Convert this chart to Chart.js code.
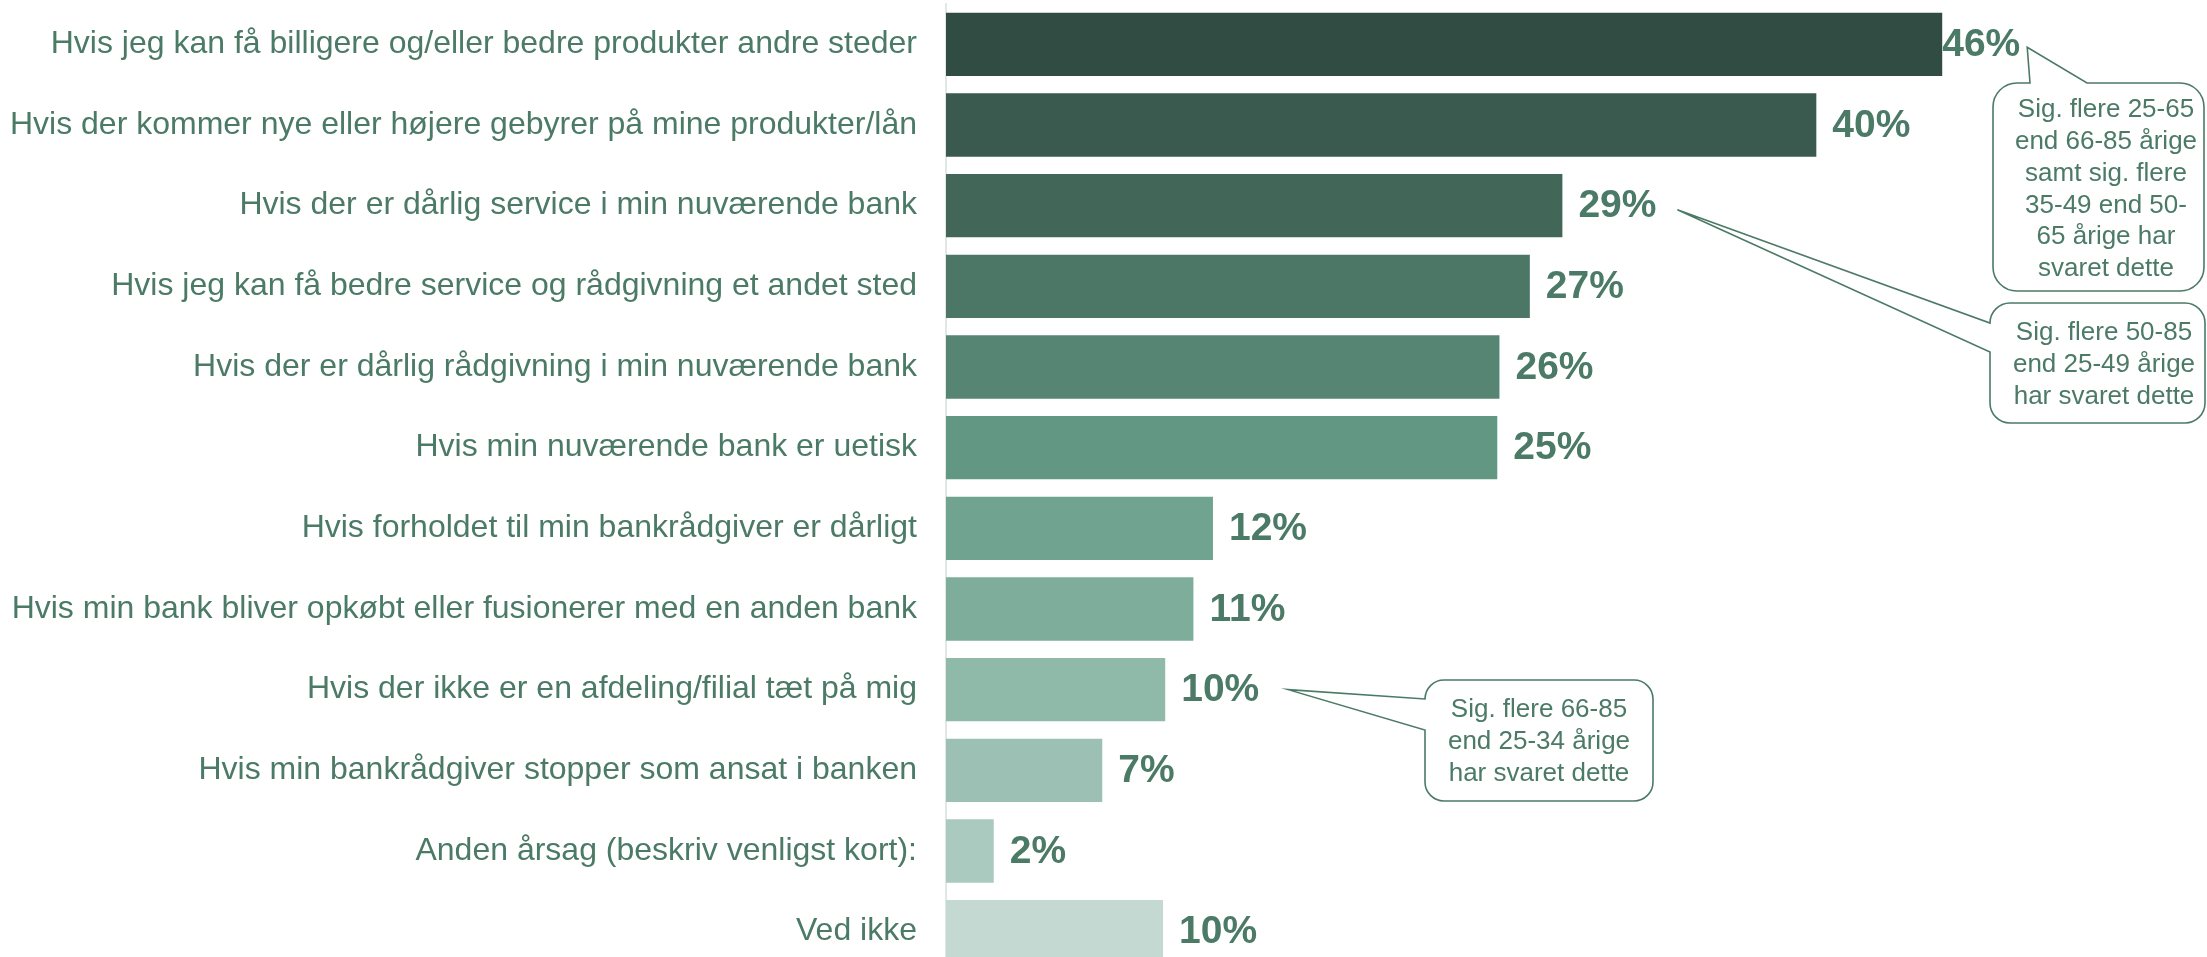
<!DOCTYPE html>
<html>
<head>
<meta charset="utf-8">
<script src="https://cdn.jsdelivr.net/npm/chart.js@4.4.1/dist/chart.umd.min.js"></script>
<style>
  html, body { margin:0; padding:0; background:#fff; overflow:hidden; }
  #wrap { position:absolute; left:0; top:0; width:2207px; height:975px; }
</style>
</head>
<body>
<div id="wrap"><canvas id="c"></canvas></div>
<script>
/* reasons for switching bank — share of respondents, % */
const labels = [
  'Hvis jeg kan få billigere og/eller bedre produkter andre steder',
  'Hvis der kommer nye eller højere gebyrer på mine produkter/lån',
  'Hvis der er dårlig service i min nuværende bank',
  'Hvis jeg kan få bedre service og rådgivning et andet sted',
  'Hvis der er dårlig rådgivning i min nuværende bank',
  'Hvis min nuværende bank er uetisk',
  'Hvis forholdet til min bankrådgiver er dårligt',
  'Hvis min bank bliver opkøbt eller fusionerer med en anden bank',
  'Hvis der ikke er en afdeling/filial tæt på mig',
  'Hvis min bankrådgiver stopper som ansat i banken',
  'Anden årsag (beskriv venligst kort):',
  'Ved ikke'
];
const values = [45.9, 40.1, 28.4, 26.9, 25.5, 25.4, 12.3, 11.4, 10.1, 7.2, 2.2, 10.0];
const valueLabels = ['46%', '40%', '29%', '27%', '26%', '25%', '12%', '11%', '10%', '7%', '2%', '10%'];
const barColors = ['#314c43', '#3a5a4f', '#426658', '#4c7666', '#568573', '#629883',
                   '#70a390', '#7fad9c', '#8fb9a9', '#9cc1b4', '#aacabf', '#c4d9d2'];
const notes = [
  { bar: 0, lines: ['Sig. flere 25-65', 'end 66-85 årige', 'samt sig. flere', '35-49 end 50-', '65 årige har', 'svaret dette'] },
  { bar: 2, lines: ['Sig. flere 50-85', 'end 25-49 årige', 'har svaret dette'] },
  { bar: 8, lines: ['Sig. flere 66-85', 'end 25-34 årige', 'har svaret dette'] }
];

const TXT = '#4b7a66';
const FONT = "'Liberation Sans', Arial, sans-serif";
Chart.defaults.font.family = FONT;

/* bold % labels at the bar ends */
const valuePlugin = {
  id: 'vals',
  afterDatasetsDraw(ch) {
    const ctx = ch.ctx, meta = ch.getDatasetMeta(0);
    ctx.save();
    ctx.font = 'bold 39px ' + FONT;
    ctx.fillStyle = TXT;
    ctx.textBaseline = 'middle';
    meta.data.forEach((b, i) => {
      ctx.fillText(valueLabels[i], b.x + (i === 0 ? 0 : 16), b.y + 1);
    });
    ctx.restore();
  }
};

/* speech-bubble callouts; box geometry is layout, tip hangs off the bar */
const boxes = [
  { x0:1993, y0:83, x1:2204, y1:291, r:24, side:'top', a:2030, b:2087, dx:85, dy:3, cx:2106, top:110, lh:31.8 },
  { x0:1990, y0:303, x1:2205, y1:423, r:20, side:'left', a:323, b:352, dx:115, dy:4, cx:2104, top:333, lh:31.8 },
  { x0:1425, y0:680, x1:1653, y1:801, r:19, side:'left', a:699, b:730, dx:123, dy:0, cx:1539, top:710, lh:31.8 }
];
const calloutPlugin = {
  id: 'callouts',
  afterDraw(ch) {
    const ctx = ch.ctx, meta = ch.getDatasetMeta(0);
    ctx.save();
    notes.forEach((n, k) => {
      const g = boxes[k], bar = meta.data[n.bar];
      const tx = bar.x + g.dx, ty = bar.y + g.dy;
      const { x0, y0, x1, y1, r } = g;
      ctx.beginPath();
      ctx.moveTo(x0 + r, y0);
      if (g.side === 'top') { ctx.lineTo(g.a, y0); ctx.lineTo(tx, ty); ctx.lineTo(g.b, y0); }
      ctx.lineTo(x1 - r, y0);
      ctx.arcTo(x1, y0, x1, y0 + r, r);
      ctx.lineTo(x1, y1 - r);
      ctx.arcTo(x1, y1, x1 - r, y1, r);
      ctx.lineTo(x0 + r, y1);
      ctx.arcTo(x0, y1, x0, y1 - r, r);
      if (g.side === 'left') { ctx.lineTo(x0, g.b); ctx.lineTo(tx, ty); ctx.lineTo(x0, g.a); }
      ctx.lineTo(x0, y0 + r);
      ctx.arcTo(x0, y0, x0 + r, y0, r);
      ctx.closePath();
      ctx.fillStyle = '#fff';
      ctx.fill();
      ctx.strokeStyle = TXT;
      ctx.lineWidth = 1.6;
      ctx.stroke();
      ctx.fillStyle = TXT;
      ctx.font = '26px ' + FONT;
      ctx.textAlign = 'center';
      ctx.textBaseline = 'middle';
      n.lines.forEach((t, i) => ctx.fillText(t, g.cx, g.top + i * g.lh));
    });
    ctx.restore();
  }
};

new Chart(document.getElementById('c'), {
  type: 'bar',
  data: { labels, datasets: [{ data: values, backgroundColor: barColors,
    categoryPercentage: 0.786, barPercentage: 1 }] },
  options: {
    indexAxis: 'y', responsive: true, maintainAspectRatio: false, animation: false,
    layout: { padding: { top: 4, bottom: 3, left: 0, right: 0 } },
    plugins: { legend: { display: false }, tooltip: { enabled: false } },
    scales: {
      x: { display: false, min: 0, max: 58.1 },
      y: {
        // fixed gutter for the labels; drop the half-label padding chart.js adds
        afterFit: s => { s.width = 946; s.paddingTop = 0; s.paddingBottom = 0; },
        grid: { display: false, drawTicks: false },
        border: { display: true, color: '#dfe8e5', width: 2 },
        ticks: { color: TXT, font: { size: 32 }, padding: 29 }
      }
    }
  },
  plugins: [valuePlugin, calloutPlugin]
});
</script>
</body>
</html>
